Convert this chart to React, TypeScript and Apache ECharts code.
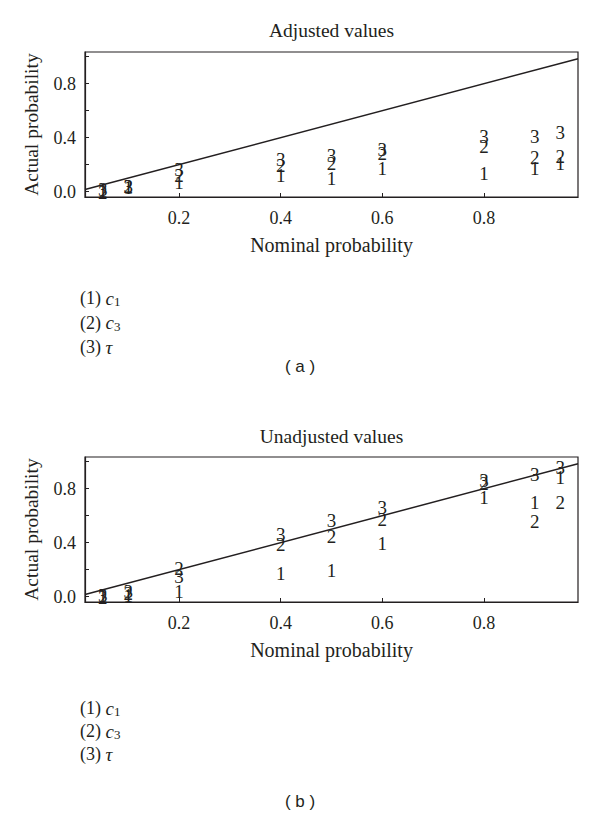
import React, { useEffect, useRef } from "react";
import * as echarts from "echarts";

// Nominal probabilities (x positions of the columns)
const nominal = [0.05, 0.1, 0.2, 0.4, 0.5, 0.6, 0.8, 0.9, 0.95];

// (a) Adjusted values
const adjC1 = [0.005, 0.03, 0.068, 0.118, 0.1, 0.168, 0.134, 0.168, 0.205];
const adjC3 = [-0.005, 0.035, 0.118, 0.197, 0.205, 0.286, 0.332, 0.256, 0.262];
const adjTau = [0.015, 0.04, 0.166, 0.239, 0.266, 0.315, 0.411, 0.411, 0.435];

// (b) Unadjusted values
const unC1 = [0.005, 0.005, 0.04, 0.172, 0.19, 0.396, 0.735, 0.697, 0.885];
const unC3 = [-0.005, 0.02, 0.21, 0.383, 0.446, 0.575, 0.835, 0.557, 0.7];
const unTau = [0.01, 0.035, 0.147, 0.457, 0.561, 0.66, 0.86, 0.905, 0.96];

// Axis ranges; reference line y = x spans the x range
const xRange = [0.015, 0.985];
const yRange = [-0.04, 1.035];

const xTicks = [0.2, 0.4, 0.6, 0.8];
const yTicks = [0, 0.2, 0.4, 0.6, 0.8, 1.0];
const yLabels = [0, 0.4, 0.8];

const marks = ["1", "2", "3"];
const titles = ["Adjusted values", "Unadjusted values"];
const panelTags = ["( a )", "( b )"];
const legendNums = ["(1)", "(2)", "(3)"];
const legendSyms = ["c", "c", "τ"];
const legendSubs = ["1", "3", ""];

const SERIF = "Liberation Serif";
const SANS = "Liberation Sans";
const INK = "#231f20";

const panels = [
  { top: 52, series: [adjC1, adjC3, adjTau], titleY: 30, legendY: [298, 322.5, 347], tagY: 366 },
  { top: 457, series: [unC1, unC3, unTau], titleY: 436, legendY: [708, 731, 754], tagY: 801 },
];

export default function App() {
  const ref = useRef<HTMLDivElement>(null);
  useEffect(() => {
    if (!ref.current) return;
    const chart = echarts.init(ref.current, undefined, { renderer: "svg" });

    const grids: any[] = [];
    const xAxes: any[] = [];
    const yAxes: any[] = [];
    const series: any[] = [];
    const graphics: any[] = [];

    const tickLabelStyle = {
      color: INK,
      fontFamily: SERIF,
      fontSize: 18,
      fontWeight: "normal",
    };

    panels.forEach((p, i) => {
      grids.push({
        left: 85,
        top: p.top,
        width: 493,
        height: 145,
        show: true,
        borderColor: INK,
        borderWidth: 1.2,
        backgroundColor: "transparent",
      });
      xAxes.push({
        type: "value",
        gridIndex: i,
        min: xRange[0],
        max: xRange[1],
        axisLine: { show: true, onZero: false, lineStyle: { color: INK, width: 1.2 } },
        axisTick: { show: true, inside: true, length: 4, customValues: xTicks, lineStyle: { color: INK, width: 1 } },
        axisLabel: {
          show: true,
          customValues: xTicks,
          formatter: (v: number) => v.toFixed(1),
          margin: 12,
          ...tickLabelStyle,
        },
        splitLine: { show: false },
        name: "Nominal probability",
        nameLocation: "middle",
        nameGap: 38,
        nameTextStyle: { color: INK, fontFamily: SERIF, fontSize: 20 },
      });
      yAxes.push({
        type: "value",
        gridIndex: i,
        min: yRange[0],
        max: yRange[1],
        axisLine: { show: true, onZero: false, lineStyle: { color: INK, width: 1.2 } },
        axisTick: { show: true, inside: true, length: 4, customValues: yTicks, lineStyle: { color: INK, width: 1 } },
        axisLabel: {
          show: true,
          customValues: yLabels,
          formatter: (v: number) => v.toFixed(1),
          margin: 9,
          ...tickLabelStyle,
        },
        splitLine: { show: false },
        name: "Actual probability",
        nameLocation: "middle",
        nameGap: 44,
        nameTextStyle: { color: INK, fontFamily: SERIF, fontSize: 19.5 },
      });
      series.push({
        type: "line",
        xAxisIndex: i,
        yAxisIndex: i,
        data: [
          [xRange[0], xRange[0]],
          [xRange[1], xRange[1]],
        ],
        symbol: "none",
        silent: true,
        lineStyle: { color: INK, width: 1.5 },
        z: 2,
      });
      p.series.forEach((vals, k) => {
        series.push({
          type: "custom",
          xAxisIndex: i,
          yAxisIndex: i,
          data: nominal.map((x, j) => [x, vals[j]]),
          silent: true,
          z: 3 + k,
          renderItem: (_params: any, api: any) => {
            const pt = api.coord([api.value(0), api.value(1)]);
            return {
              type: "text",
              x: pt[0],
              y: pt[1],
              style: {
                text: marks[k],
                fill: INK,
                fontFamily: SERIF,
                fontSize: 19,
                align: "center",
                verticalAlign: "middle",
              },
            };
          },
        });
      });

      graphics.push({
        type: "text",
        x: 331.5,
        y: p.titleY,
        style: {
          text: titles[i],
          align: "center",
          verticalAlign: "middle",
          fill: INK,
          fontFamily: SERIF,
          fontSize: 19.5,
        },
      });
      legendNums.forEach((n, k) => {
        const sub = legendSubs[k];
        graphics.push({
          type: "text",
          x: 80,
          y: p.legendY[k],
          style: {
            text: `{n|${n} }{i|${legendSyms[k]}}` + (sub ? `{s|${sub}}` : ""),
            align: "left",
            verticalAlign: "middle",
            fill: INK,
            rich: {
              n: { fontFamily: SERIF, fontSize: 18, lineHeight: 20, fill: INK, color: INK },
              i: { fontFamily: SERIF, fontSize: 19, fontStyle: "italic", lineHeight: 20, fill: INK, color: INK },
              s: { fontFamily: SERIF, fontSize: 13, lineHeight: 12, verticalAlign: "bottom", fill: INK, color: INK },
            },
          },
        });
      });
      graphics.push({
        type: "text",
        x: 300,
        y: p.tagY,
        style: {
          text: panelTags[i],
          align: "center",
          verticalAlign: "middle",
          fill: INK,
          fontFamily: SANS,
          fontSize: 17,
        },
      });
    });

    chart.setOption({
      animation: false,
      backgroundColor: "#ffffff",
      textStyle: { fontFamily: SERIF, color: INK },
      grid: grids,
      xAxis: xAxes,
      yAxis: yAxes,
      series,
      graphic: graphics,
    });
    return () => chart.dispose();
  }, []);

  return (
    <div
      ref={ref}
      style={{ position: "fixed", left: 0, top: 0, width: 600, height: 817, background: "#fff" }}
    />
  );
}
